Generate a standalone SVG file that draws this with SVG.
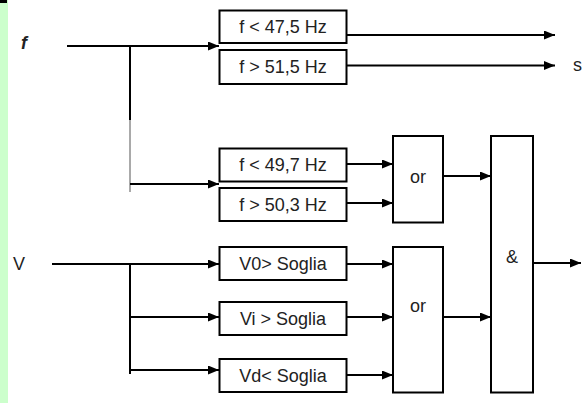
<svg xmlns="http://www.w3.org/2000/svg" width="582" height="403" viewBox="0 0 582 403">
<defs>
<marker id="ah" markerUnits="userSpaceOnUse" markerWidth="12" markerHeight="10" refX="11" refY="4.5" orient="auto">
<path d="M0,0 L11,4.5 L0,9 z" fill="#000"/>
</marker>
<style>
.box{fill:#fff;stroke:#000;stroke-width:2}
.t{font-family:"Liberation Sans",Arial,sans-serif;font-size:18px;fill:#222;text-anchor:middle}
.lbl{font-family:"Liberation Sans",Arial,sans-serif;font-size:18px;fill:#222}
.c{fill:none;stroke:#000;stroke-width:2}
.a{marker-end:url(#ah)}
</style>
</defs>
<rect x="0" y="0" width="582" height="403" fill="#fff"/>
<rect x="0" y="0" width="8" height="403" fill="#ccffcc"/>
<rect x="0" y="0" width="7" height="3" fill="#000"/>

<text class="lbl" x="21" y="49" font-weight="bold" font-style="italic" font-size="19">f</text>
<text class="lbl" x="13" y="269.5">V</text>
<text class="lbl" x="573" y="70.5" font-size="19">s</text>

<g id="connectors">
<path class="c a" d="M67,46 H219"/>
<path class="c" d="M130,46 V120"/>
<path d="M130,120 V192" fill="none" stroke="#555" stroke-width="1"/>
<path class="c a" d="M130,184 H219"/>
<path class="c a" d="M347,35 H555"/>
<path class="c a" d="M347,65.5 H555"/>
<path class="c a" d="M347,164 H393"/>
<path class="c a" d="M347,203 H393"/>
<path class="c a" d="M443,176 H491"/>
<path class="c a" d="M52,264 H219"/>
<path class="c" d="M130,264 V374"/>
<path class="c a" d="M130,317 H219"/>
<path class="c a" d="M130,370 H219"/>
<path class="c a" d="M347,264 H393"/>
<path class="c a" d="M347,317 H393"/>
<path class="c a" d="M347,375 H393"/>
<path class="c a" d="M443,317 H491"/>
<path class="c a" d="M533,263 H581"/>
</g>

<g id="n1"><rect class="box" x="219.5" y="10.5" width="127" height="32.5"/><text class="t" x="283" y="32.8">f &lt; 47,5 Hz</text></g>
<g id="n2"><rect class="box" x="219.5" y="50" width="127" height="34"/><text class="t" x="283" y="73.3">f &gt; 51,5 Hz</text></g>
<g id="n3"><rect class="box" x="219.5" y="148.5" width="127" height="33"/><text class="t" x="283" y="171.3">f &lt; 49,7 Hz</text></g>
<g id="n4"><rect class="box" x="219.5" y="188" width="127" height="33"/><text class="t" x="283" y="210.8">f &gt; 50,3 Hz</text></g>
<g id="n5"><rect class="box" x="219.5" y="247" width="127" height="33"/><text class="t" x="283" y="269.8">V0&gt; Soglia</text></g>
<g id="n6"><rect class="box" x="219.5" y="302" width="127" height="33"/><text class="t" x="283" y="324.8">Vi &gt; Soglia</text></g>
<g id="n7"><rect class="box" x="219.5" y="359" width="127" height="33"/><text class="t" x="283" y="381.8">Vd&lt; Soglia</text></g>
<g id="or1"><rect class="box" x="393" y="136" width="50" height="86.5"/><text class="t" x="418" y="182.7">or</text></g>
<g id="or2"><rect class="box" x="393" y="247" width="50" height="145.5"/><text class="t" x="418" y="311.5">or</text></g>
<g id="and"><rect class="box" x="491" y="136" width="42" height="256.5"/><text class="t" x="512" y="263" font-size="15">&amp;</text></g>
</svg>
